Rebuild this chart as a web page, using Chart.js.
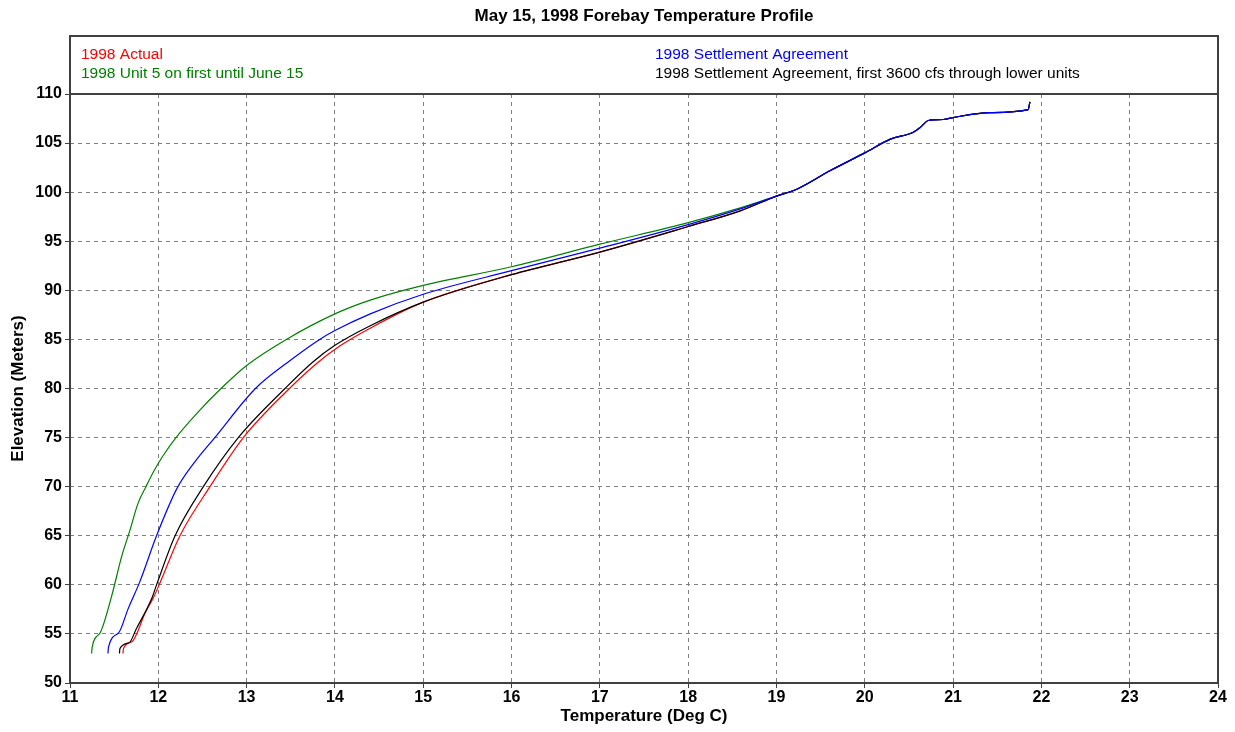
<!DOCTYPE html>
<html>
<head>
<meta charset="utf-8">
<script src="https://cdn.jsdelivr.net/npm/chart.js@4"></script>
<style>
  html, body { margin: 0; padding: 0; background: #fff; }
  #wrap { width: 1235px; height: 732px; }
</style>
</head>
<body>
<div id="wrap"><canvas id="forebayChart"></canvas></div>
<script>
// temperatures (deg C) and elevations (m)
const actualTemp = [11.60, 11.605, 11.70, 11.85, 11.95, 12.01, 12.245, 12.585, 12.963, 13.485, 13.8, 14.05, 14.43, 15.0, 16.0, 17.0, 18.0, 18.59];
const actualElev = [53.0, 53.5, 54.2, 57.1, 58.8, 60.0, 65.0, 70.0, 75.0, 80.0, 82.6, 84.3, 86.3, 88.8, 91.6, 93.9, 96.5, 98.1];

const unit5Temp = [11.245, 11.25, 11.34, 11.47, 11.585, 11.68, 11.77, 11.86, 11.95, 12.05, 12.2, 12.45, 12.71, 13.0, 13.45, 14.0, 14.4, 15.0, 16.0, 17.0, 18.0, 18.59];
const unit5Elev = [53.0, 53.6, 55.1, 58.8, 62.9, 65.6, 68.3, 70.0, 71.6, 73.1, 75.0, 77.6, 80.0, 82.35, 85.0, 87.6, 89.0, 90.5, 92.4, 94.7, 96.9, 98.4];

const settleTemp = [11.43, 11.435, 11.55, 11.66, 11.79, 11.98, 12.21, 12.42, 12.64, 13.1, 13.5, 13.81, 14.0, 14.4, 15.0, 16.0, 17.0, 18.0, 18.59];
const settleElev = [53.0, 53.6, 55.1, 57.6, 60.3, 65.0, 69.8, 72.6, 75.0, 80.0, 82.9, 84.9, 85.9, 87.6, 89.6, 92.0, 94.3, 96.7, 98.3];

const lowerTemp = [11.56, 11.565, 11.67, 11.75, 11.925, 11.98, 12.19, 12.51, 12.906, 13.435, 13.75, 14.0, 14.4, 15.0, 16.0, 17.0, 18.0, 18.59];
const lowerElev = [53.0, 53.5, 54.1, 55.5, 58.6, 60.0, 65.0, 70.0, 75.0, 80.0, 82.7, 84.4, 86.4, 88.8, 91.6, 93.9, 96.5, 98.1];

// all four runs merge above ~99 m
const tailTemp = [19.0, 19.23, 19.61, 20.0, 20.29, 20.55, 20.63, 20.72, 20.89, 21.0, 21.42, 21.85, 21.87];
const tailElev = [99.6, 100.3, 102.2, 104.0, 105.4, 106.1, 106.6, 107.3, 107.4, 107.6, 108.1, 108.4, 109.2];

const seriesNames = [
  '1998 Actual',
  '1998 Unit 5 on first until June 15',
  '1998 Settlement Agreement',
  '1998 Settlement Agreement, first 3600 cfs through lower units'
];
const seriesColors = ['#ff0000', '#008000', '#0000ff', '#000000'];

const chartTitle = 'May 15, 1998 Forebay Temperature Profile';
const xTitle = 'Temperature (Deg C)';
const yTitle = 'Elevation (Meters)';

function toPoints(temps, elevs) {
  const t = temps.concat(tailTemp);
  const e = elevs.concat(tailElev);
  return t.map((v, i) => ({ x: v, y: e[i] }));
}

const tickFont = { family: '"Liberation Sans", Arial, sans-serif', size: 16, weight: 'bold' };
const titleFont = { family: '"Liberation Sans", Arial, sans-serif', size: 17, weight: 'bold' };

// frame, legend box and main title
const frameLegend = {
  id: 'frameLegend',
  afterDraw(chart) {
    const { ctx, chartArea: a } = chart;
    const boxTop = 36;
    ctx.save();
    ctx.strokeStyle = '#404040';
    ctx.lineWidth = 2;
    ctx.strokeRect(a.left, boxTop, a.right - a.left, a.bottom - boxTop);
    ctx.beginPath();
    ctx.moveTo(a.left, a.top);
    ctx.lineTo(a.right, a.top);
    ctx.stroke();

    ctx.fillStyle = '#000';
    ctx.font = 'bold 17px "Liberation Sans", Arial, sans-serif';
    ctx.textAlign = 'center';
    ctx.textBaseline = 'middle';
    ctx.fillText(chartTitle, (a.left + a.right) / 2, 16);

    ctx.font = '15.5px "Liberation Sans", Arial, sans-serif';
    ctx.textAlign = 'left';
    const slots = [[a.left + 11, 55], [a.left + 11, 74], [a.left + 585, 55], [a.left + 585, 74]];
    seriesNames.forEach((name, i) => {
      ctx.fillStyle = seriesColors[i];
      ctx.fillText(name, slots[i][0], slots[i][1]);
    });
    ctx.restore();
  }
};

const drawOrder = [3, 2, 0, 1];
const sets = [
  toPoints(actualTemp, actualElev),
  toPoints(unit5Temp, unit5Elev),
  toPoints(settleTemp, settleElev),
  toPoints(lowerTemp, lowerElev)
];

new Chart(document.getElementById('forebayChart'), {
  type: 'line',
  data: {
    datasets: sets.map((d, i) => ({
      label: seriesNames[i],
      data: d,
      borderColor: seriesColors[i],
      borderWidth: 1.2,
      pointRadius: 0,
      fill: false,
      cubicInterpolationMode: 'monotone',
      order: drawOrder[i]
    }))
  },
  options: {
    responsive: true,
    maintainAspectRatio: false,
    animation: false,
    layout: { padding: { top: 94, right: 17, left: 0, bottom: 0 } },
    plugins: {
      legend: { display: false },
      title: { display: false },
      tooltip: { enabled: false }
    },
    scales: {
      x: {
        type: 'linear',
        min: 11,
        max: 24,
        ticks: { stepSize: 1, color: '#000', font: tickFont, padding: 0, maxRotation: 0 },
        grid: { color: '#808080', lineWidth: 1, tickLength: 5, tickColor: '#404040', drawTicks: true },
        border: { display: false, dash: [4, 4] },
        title: { display: true, text: xTitle, color: '#000', font: titleFont, padding: { top: 0, bottom: 5 } },
        afterFit(s) { s.height = 49; }
      },
      y: {
        min: 50,
        max: 110,
        ticks: { stepSize: 5, color: '#000', font: tickFont, padding: 3 },
        grid: { color: '#808080', lineWidth: 1, tickLength: 5, tickColor: '#404040', drawTicks: true },
        border: { display: false, dash: [4, 4] },
        title: { display: true, text: yTitle, color: '#000', font: titleFont, padding: { top: 8, bottom: 0 } },
        afterFit(s) { s.width = 70; }
      }
    }
  },
  plugins: [frameLegend]
});
</script>
</body>
</html>
